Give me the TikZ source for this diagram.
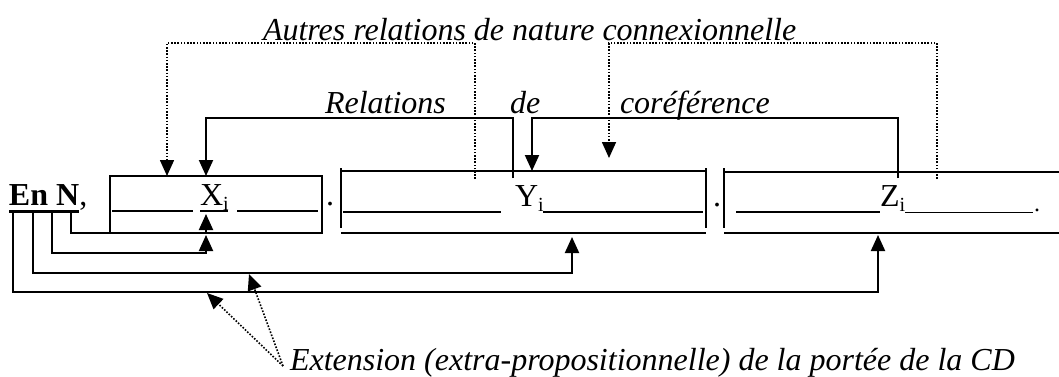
\documentclass[tikz,border=0pt]{standalone}
\usepackage{fontspec}
\setmainfont{Liberation Serif}
\usetikzlibrary{arrows.meta}
\begin{document}
\begin{tikzpicture}[x=1pt,y=-1pt,
  txt/.style={anchor=base west,inner sep=0pt,outer sep=0pt,font=\fontsize{32}{36}\selectfont},
  itxt/.style={txt,font=\fontsize{32}{36}\selectfont\itshape},
  boxline/.style={line width=2pt},
  rule/.style={line width=1.5pt},
  conn/.style={line width=2pt,-{Triangle[width=14pt,length=16pt]}},
  dotconn/.style={line width=1.6pt,dash pattern=on 1.6pt off 1.6pt,-{Triangle[width=14pt,length=16pt]}},
  dotline/.style={line width=1.6pt,dash pattern=on 1.6pt off 1.6pt}]
\useasboundingbox (0,0) rectangle (1059,376);
% texts
\node[txt] (enn) at (9,205) {\textbf{En N},};
\draw[line width=3pt] (9,211) -- (79,211);
\node[txt] (xi) at (200,205) {X\raisebox{-5pt}{\fontsize{20}{20}\selectfont i}};
\draw[line width=2pt] (200,211) -- (228,211);
\node[txt] (yi) at (515,206) {Y\raisebox{-5pt}{\fontsize{20}{20}\selectfont i}};
\node[txt] (zi) at (880,206) {Z\raisebox{-5pt}{\fontsize{20}{20}\selectfont i}};
\node[txt] (dot1) at (326,205) {.};
\node[txt] (dot2) at (713,206) {.};
\node[txt,font=\fontsize{24}{24}\selectfont] (dot3) at (1034,211) {.};
\node[itxt] (autres) at (263,40) {Autres relations de nature connexionnelle};
\node[itxt] (rel) at (325,113) {Relations};
\node[itxt] (de) at (510,113) {de};
\node[itxt] (coref) at (620,113) {coréférence};
\node[itxt] (ext) at (290,370) {Extension (extra-propositionnelle) de la portée de la CD};
% boxes
\draw[boxline] (110,176) rectangle (322,233);
\draw[boxline] (341,168) -- (341,228) (706,168) -- (706,228)
  (341,171) -- (706,171) (341,233) -- (706,233);
\draw[boxline] (724,168) -- (724,228) (724,172) -- (1059,172) (724,233) -- (1059,233);
% blanks
\draw[rule] (112,211) -- (193,211) (237,211) -- (318,211);
\draw[rule] (343,212) -- (501,212) (543,212) -- (703,212);
\draw[rule] (736,212) -- (880,212);
\draw[line width=1pt] (905,212) -- (1033,212);
% anchor coordinates
\coordinate (xdot) at (167,176);
\coordinate (ydot) at (475,179);
\coordinate (middot) at (609,158);
\coordinate (zdot) at (937,179);
\coordinate (xtop) at (206,176);
\coordinate (yref) at (513,178);
\coordinate (ytop) at (532,171);
\coordinate (zref) at (898,178);
\coordinate (n1) at (13,211);
\coordinate (n2) at (33,211);
\coordinate (n3) at (52,211);
\coordinate (n4) at (71,211);
\coordinate (xb1) at (206,214);
\coordinate (xb2) at (206,235);
\coordinate (yb) at (572,237);
\coordinate (zb) at (878,235);
\coordinate (extsrc) at (283,366);
\coordinate (e1) at (249,274);
\coordinate (e2) at (207,293);
% connectors
\draw[dotconn] (ydot) -- ++(0,-136) -| (xdot);
\draw[dotconn] (zdot) -- ++(0,-136) -| (middot);
\draw[conn] (yref) -- ++(0,-60) -| (xtop);
\draw[conn] (zref) -- ++(0,-60) -| (ytop);
\draw[conn] (n4) -- ++(0,22) -| (xb1);
\draw[conn] (n3) -- ++(0,42) -| (xb2);
\draw[conn] (n2) -- ++(0,62) -| (yb);
\draw[conn] (n1) -- ++(0,81) -| (zb);
\draw[dotconn] (extsrc) -- (e1);
\draw[dotconn] (extsrc) -- (e2);
\end{tikzpicture}
\end{document}
